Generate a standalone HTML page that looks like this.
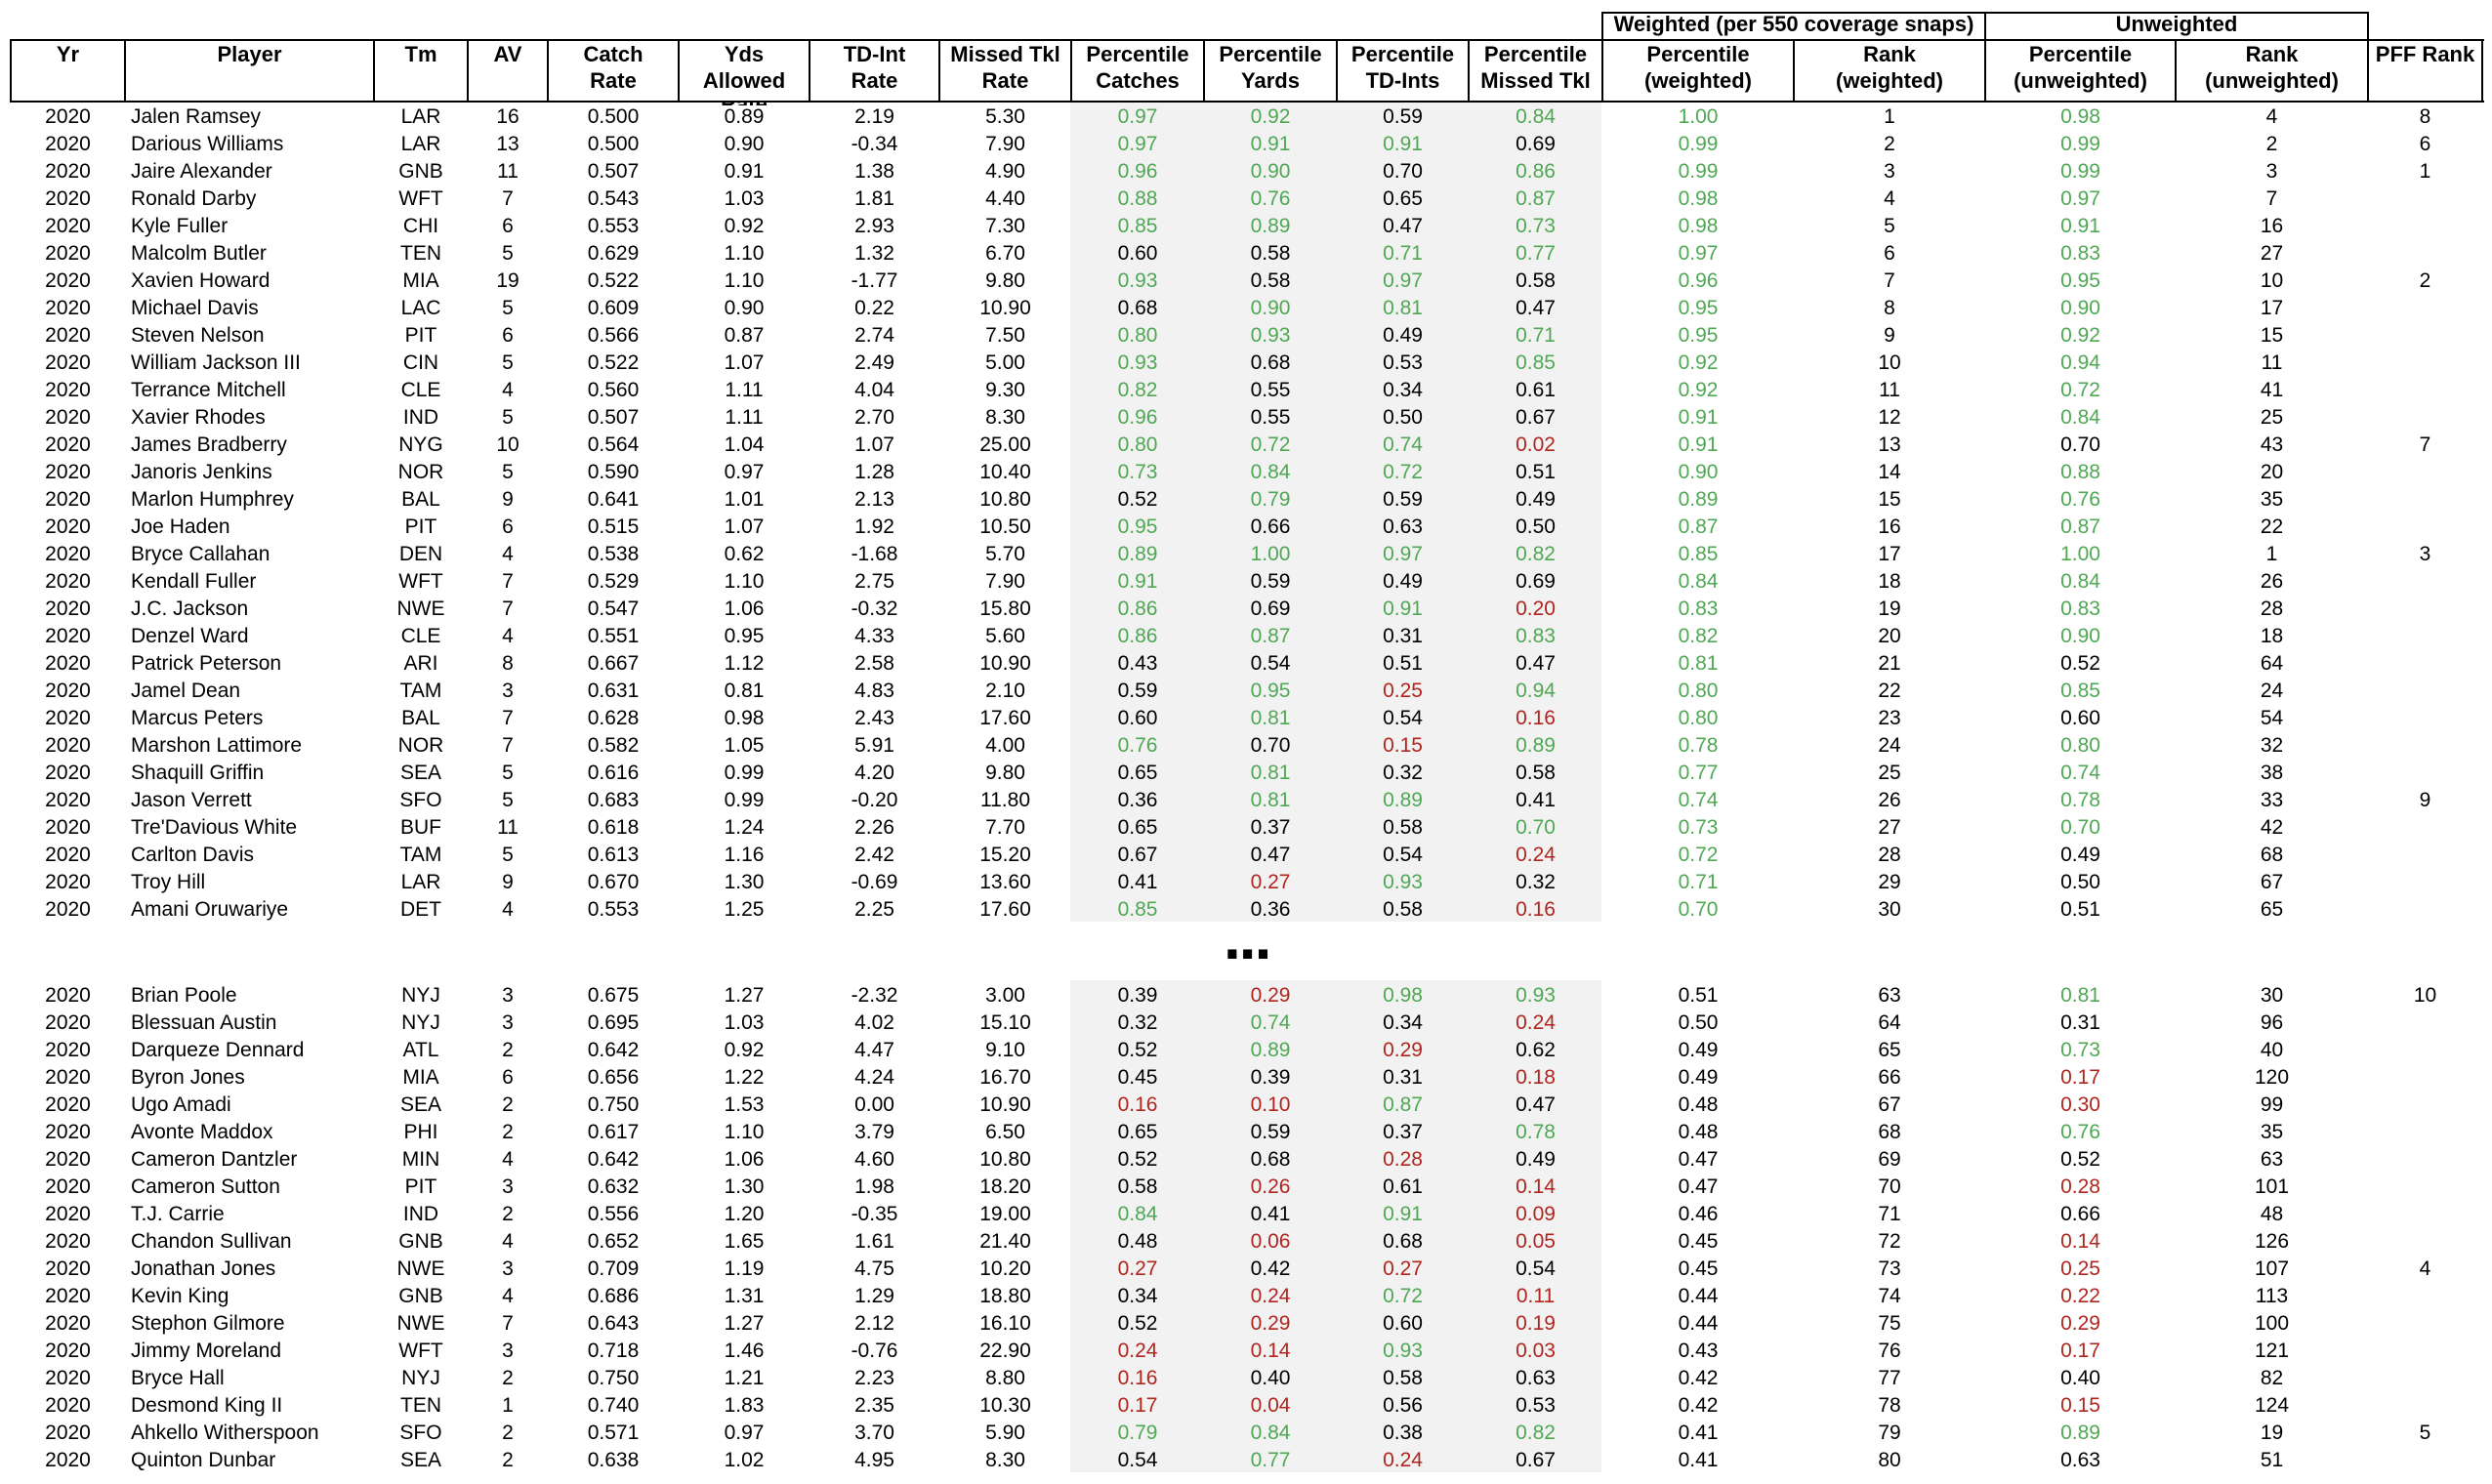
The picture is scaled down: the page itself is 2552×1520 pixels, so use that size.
<!DOCTYPE html>
<html><head><meta charset="utf-8">
<style>
html,body{margin:0;padding:0;background:#fff;}
body{width:2552px;height:1520px;position:relative;overflow:hidden;font-family:"Liberation Sans",Arial,Helvetica,sans-serif;color:#000;}
.ln{position:absolute;background:#000;}
.gray{position:absolute;background:#f2f2f2;left:1096px;width:544px;}
.hc{position:absolute;top:42px;text-align:center;font-weight:bold;font-size:22px;line-height:27px;white-space:nowrap;}
.gh{position:absolute;top:11px;height:28px;line-height:28px;text-align:center;font-weight:bold;font-size:22px;white-space:nowrap;}
table{position:absolute;left:11px;width:2531px;table-layout:fixed;border-collapse:collapse;border-spacing:0;}
td{padding:0;height:28px;line-height:28px;font-size:21px;text-align:center;white-space:nowrap;overflow:visible;}
td.p{text-align:left;padding-left:6px;}
.g{color:#4fa853;}
.r{color:#b0251e;}
</style></head><body>

<div class="gray" style="top:105px;height:839px"></div>
<div class="gray" style="top:1004px;height:504px"></div>

<!-- horizontal lines -->
<div class="ln" style="left:10px;width:2534px;top:40px;height:2px"></div>
<div class="ln" style="left:10px;width:2534px;top:103px;height:2px"></div>
<div class="ln" style="left:1640px;width:786px;top:12px;height:2px"></div>
<!-- vertical lines -->
<div class="ln" style="left:10px;width:2px;top:40px;height:65px"></div>
<div class="ln" style="left:127px;width:2px;top:40px;height:65px"></div>
<div class="ln" style="left:382px;width:2px;top:40px;height:65px"></div>
<div class="ln" style="left:478px;width:2px;top:40px;height:65px"></div>
<div class="ln" style="left:560px;width:2px;top:40px;height:65px"></div>
<div class="ln" style="left:694px;width:2px;top:40px;height:65px"></div>
<div class="ln" style="left:828px;width:2px;top:40px;height:65px"></div>
<div class="ln" style="left:961px;width:2px;top:40px;height:65px"></div>
<div class="ln" style="left:1096px;width:2px;top:40px;height:65px"></div>
<div class="ln" style="left:1232px;width:2px;top:40px;height:65px"></div>
<div class="ln" style="left:1368px;width:2px;top:40px;height:65px"></div>
<div class="ln" style="left:1503px;width:2px;top:40px;height:65px"></div>
<div class="ln" style="left:1640px;width:2px;top:12px;height:93px"></div>
<div class="ln" style="left:1836px;width:2px;top:40px;height:65px"></div>
<div class="ln" style="left:2032px;width:2px;top:12px;height:93px"></div>
<div class="ln" style="left:2227px;width:2px;top:40px;height:65px"></div>
<div class="ln" style="left:2424px;width:2px;top:12px;height:93px"></div>
<div class="ln" style="left:2541px;width:2px;top:40px;height:65px"></div>

<!-- group headers -->
<div class="gh" style="left:1641px;width:392px">Weighted (per 550 coverage snaps)</div>
<div class="gh" style="left:2033px;width:392px">Unweighted</div>

<!-- column headers -->
<div class="hc" style="left:11px;width:117px">Yr</div>
<div class="hc" style="left:128px;width:255px">Player</div>
<div class="hc" style="left:383px;width:96px">Tm</div>
<div class="hc" style="left:479px;width:82px">AV</div>
<div class="hc" style="left:561px;width:134px">Catch<br>Rate</div>
<div class="hc" style="left:695px;width:134px">Yds<br>Allowed</div>
<div style="position:absolute;left:695px;width:134px;top:105px;height:3px;overflow:hidden;">
  <div style="position:absolute;left:0;width:134px;top:-12px;text-align:center;font-weight:bold;font-size:22px;line-height:27px;">Rate</div>
</div>
<div class="hc" style="left:829px;width:133px">TD-Int<br>Rate</div>
<div class="hc" style="left:962px;width:135px">Missed Tkl<br>Rate</div>
<div class="hc" style="left:1097px;width:136px">Percentile<br>Catches</div>
<div class="hc" style="left:1233px;width:136px">Percentile<br>Yards</div>
<div class="hc" style="left:1369px;width:135px">Percentile<br>TD-Ints</div>
<div class="hc" style="left:1504px;width:137px">Percentile<br>Missed Tkl</div>
<div class="hc" style="left:1641px;width:196px">Percentile<br>(weighted)</div>
<div class="hc" style="left:1837px;width:196px">Rank<br>(weighted)</div>
<div class="hc" style="left:2033px;width:195px">Percentile<br>(unweighted)</div>
<div class="hc" style="left:2228px;width:197px">Rank<br>(unweighted)</div>
<div class="hc" style="left:2425px;width:117px">PFF Rank</div>

<table style="top:106px">
<colgroup>
<col style="width:117px"><col style="width:255px"><col style="width:96px"><col style="width:82px"><col style="width:134px"><col style="width:134px"><col style="width:133px"><col style="width:135px"><col style="width:136px"><col style="width:136px"><col style="width:135px"><col style="width:137px"><col style="width:196px"><col style="width:196px"><col style="width:195px"><col style="width:197px"><col style="width:117px">
</colgroup>
<tr><td>2020</td><td class="p">Jalen Ramsey</td><td>LAR</td><td>16</td><td>0.500</td><td>0.89</td><td>2.19</td><td>5.30</td><td class="g">0.97</td><td class="g">0.92</td><td>0.59</td><td class="g">0.84</td><td class="g">1.00</td><td>1</td><td class="g">0.98</td><td>4</td><td>8</td></tr>
<tr><td>2020</td><td class="p">Darious Williams</td><td>LAR</td><td>13</td><td>0.500</td><td>0.90</td><td>-0.34</td><td>7.90</td><td class="g">0.97</td><td class="g">0.91</td><td class="g">0.91</td><td>0.69</td><td class="g">0.99</td><td>2</td><td class="g">0.99</td><td>2</td><td>6</td></tr>
<tr><td>2020</td><td class="p">Jaire Alexander</td><td>GNB</td><td>11</td><td>0.507</td><td>0.91</td><td>1.38</td><td>4.90</td><td class="g">0.96</td><td class="g">0.90</td><td>0.70</td><td class="g">0.86</td><td class="g">0.99</td><td>3</td><td class="g">0.99</td><td>3</td><td>1</td></tr>
<tr><td>2020</td><td class="p">Ronald Darby</td><td>WFT</td><td>7</td><td>0.543</td><td>1.03</td><td>1.81</td><td>4.40</td><td class="g">0.88</td><td class="g">0.76</td><td>0.65</td><td class="g">0.87</td><td class="g">0.98</td><td>4</td><td class="g">0.97</td><td>7</td><td></td></tr>
<tr><td>2020</td><td class="p">Kyle Fuller</td><td>CHI</td><td>6</td><td>0.553</td><td>0.92</td><td>2.93</td><td>7.30</td><td class="g">0.85</td><td class="g">0.89</td><td>0.47</td><td class="g">0.73</td><td class="g">0.98</td><td>5</td><td class="g">0.91</td><td>16</td><td></td></tr>
<tr><td>2020</td><td class="p">Malcolm Butler</td><td>TEN</td><td>5</td><td>0.629</td><td>1.10</td><td>1.32</td><td>6.70</td><td>0.60</td><td>0.58</td><td class="g">0.71</td><td class="g">0.77</td><td class="g">0.97</td><td>6</td><td class="g">0.83</td><td>27</td><td></td></tr>
<tr><td>2020</td><td class="p">Xavien Howard</td><td>MIA</td><td>19</td><td>0.522</td><td>1.10</td><td>-1.77</td><td>9.80</td><td class="g">0.93</td><td>0.58</td><td class="g">0.97</td><td>0.58</td><td class="g">0.96</td><td>7</td><td class="g">0.95</td><td>10</td><td>2</td></tr>
<tr><td>2020</td><td class="p">Michael Davis</td><td>LAC</td><td>5</td><td>0.609</td><td>0.90</td><td>0.22</td><td>10.90</td><td>0.68</td><td class="g">0.90</td><td class="g">0.81</td><td>0.47</td><td class="g">0.95</td><td>8</td><td class="g">0.90</td><td>17</td><td></td></tr>
<tr><td>2020</td><td class="p">Steven Nelson</td><td>PIT</td><td>6</td><td>0.566</td><td>0.87</td><td>2.74</td><td>7.50</td><td class="g">0.80</td><td class="g">0.93</td><td>0.49</td><td class="g">0.71</td><td class="g">0.95</td><td>9</td><td class="g">0.92</td><td>15</td><td></td></tr>
<tr><td>2020</td><td class="p">William Jackson III</td><td>CIN</td><td>5</td><td>0.522</td><td>1.07</td><td>2.49</td><td>5.00</td><td class="g">0.93</td><td>0.68</td><td>0.53</td><td class="g">0.85</td><td class="g">0.92</td><td>10</td><td class="g">0.94</td><td>11</td><td></td></tr>
<tr><td>2020</td><td class="p">Terrance Mitchell</td><td>CLE</td><td>4</td><td>0.560</td><td>1.11</td><td>4.04</td><td>9.30</td><td class="g">0.82</td><td>0.55</td><td>0.34</td><td>0.61</td><td class="g">0.92</td><td>11</td><td class="g">0.72</td><td>41</td><td></td></tr>
<tr><td>2020</td><td class="p">Xavier Rhodes</td><td>IND</td><td>5</td><td>0.507</td><td>1.11</td><td>2.70</td><td>8.30</td><td class="g">0.96</td><td>0.55</td><td>0.50</td><td>0.67</td><td class="g">0.91</td><td>12</td><td class="g">0.84</td><td>25</td><td></td></tr>
<tr><td>2020</td><td class="p">James Bradberry</td><td>NYG</td><td>10</td><td>0.564</td><td>1.04</td><td>1.07</td><td>25.00</td><td class="g">0.80</td><td class="g">0.72</td><td class="g">0.74</td><td class="r">0.02</td><td class="g">0.91</td><td>13</td><td>0.70</td><td>43</td><td>7</td></tr>
<tr><td>2020</td><td class="p">Janoris Jenkins</td><td>NOR</td><td>5</td><td>0.590</td><td>0.97</td><td>1.28</td><td>10.40</td><td class="g">0.73</td><td class="g">0.84</td><td class="g">0.72</td><td>0.51</td><td class="g">0.90</td><td>14</td><td class="g">0.88</td><td>20</td><td></td></tr>
<tr><td>2020</td><td class="p">Marlon Humphrey</td><td>BAL</td><td>9</td><td>0.641</td><td>1.01</td><td>2.13</td><td>10.80</td><td>0.52</td><td class="g">0.79</td><td>0.59</td><td>0.49</td><td class="g">0.89</td><td>15</td><td class="g">0.76</td><td>35</td><td></td></tr>
<tr><td>2020</td><td class="p">Joe Haden</td><td>PIT</td><td>6</td><td>0.515</td><td>1.07</td><td>1.92</td><td>10.50</td><td class="g">0.95</td><td>0.66</td><td>0.63</td><td>0.50</td><td class="g">0.87</td><td>16</td><td class="g">0.87</td><td>22</td><td></td></tr>
<tr><td>2020</td><td class="p">Bryce Callahan</td><td>DEN</td><td>4</td><td>0.538</td><td>0.62</td><td>-1.68</td><td>5.70</td><td class="g">0.89</td><td class="g">1.00</td><td class="g">0.97</td><td class="g">0.82</td><td class="g">0.85</td><td>17</td><td class="g">1.00</td><td>1</td><td>3</td></tr>
<tr><td>2020</td><td class="p">Kendall Fuller</td><td>WFT</td><td>7</td><td>0.529</td><td>1.10</td><td>2.75</td><td>7.90</td><td class="g">0.91</td><td>0.59</td><td>0.49</td><td>0.69</td><td class="g">0.84</td><td>18</td><td class="g">0.84</td><td>26</td><td></td></tr>
<tr><td>2020</td><td class="p">J.C. Jackson</td><td>NWE</td><td>7</td><td>0.547</td><td>1.06</td><td>-0.32</td><td>15.80</td><td class="g">0.86</td><td>0.69</td><td class="g">0.91</td><td class="r">0.20</td><td class="g">0.83</td><td>19</td><td class="g">0.83</td><td>28</td><td></td></tr>
<tr><td>2020</td><td class="p">Denzel Ward</td><td>CLE</td><td>4</td><td>0.551</td><td>0.95</td><td>4.33</td><td>5.60</td><td class="g">0.86</td><td class="g">0.87</td><td>0.31</td><td class="g">0.83</td><td class="g">0.82</td><td>20</td><td class="g">0.90</td><td>18</td><td></td></tr>
<tr><td>2020</td><td class="p">Patrick Peterson</td><td>ARI</td><td>8</td><td>0.667</td><td>1.12</td><td>2.58</td><td>10.90</td><td>0.43</td><td>0.54</td><td>0.51</td><td>0.47</td><td class="g">0.81</td><td>21</td><td>0.52</td><td>64</td><td></td></tr>
<tr><td>2020</td><td class="p">Jamel Dean</td><td>TAM</td><td>3</td><td>0.631</td><td>0.81</td><td>4.83</td><td>2.10</td><td>0.59</td><td class="g">0.95</td><td class="r">0.25</td><td class="g">0.94</td><td class="g">0.80</td><td>22</td><td class="g">0.85</td><td>24</td><td></td></tr>
<tr><td>2020</td><td class="p">Marcus Peters</td><td>BAL</td><td>7</td><td>0.628</td><td>0.98</td><td>2.43</td><td>17.60</td><td>0.60</td><td class="g">0.81</td><td>0.54</td><td class="r">0.16</td><td class="g">0.80</td><td>23</td><td>0.60</td><td>54</td><td></td></tr>
<tr><td>2020</td><td class="p">Marshon Lattimore</td><td>NOR</td><td>7</td><td>0.582</td><td>1.05</td><td>5.91</td><td>4.00</td><td class="g">0.76</td><td>0.70</td><td class="r">0.15</td><td class="g">0.89</td><td class="g">0.78</td><td>24</td><td class="g">0.80</td><td>32</td><td></td></tr>
<tr><td>2020</td><td class="p">Shaquill Griffin</td><td>SEA</td><td>5</td><td>0.616</td><td>0.99</td><td>4.20</td><td>9.80</td><td>0.65</td><td class="g">0.81</td><td>0.32</td><td>0.58</td><td class="g">0.77</td><td>25</td><td class="g">0.74</td><td>38</td><td></td></tr>
<tr><td>2020</td><td class="p">Jason Verrett</td><td>SFO</td><td>5</td><td>0.683</td><td>0.99</td><td>-0.20</td><td>11.80</td><td>0.36</td><td class="g">0.81</td><td class="g">0.89</td><td>0.41</td><td class="g">0.74</td><td>26</td><td class="g">0.78</td><td>33</td><td>9</td></tr>
<tr><td>2020</td><td class="p">Tre'Davious White</td><td>BUF</td><td>11</td><td>0.618</td><td>1.24</td><td>2.26</td><td>7.70</td><td>0.65</td><td>0.37</td><td>0.58</td><td class="g">0.70</td><td class="g">0.73</td><td>27</td><td class="g">0.70</td><td>42</td><td></td></tr>
<tr><td>2020</td><td class="p">Carlton Davis</td><td>TAM</td><td>5</td><td>0.613</td><td>1.16</td><td>2.42</td><td>15.20</td><td>0.67</td><td>0.47</td><td>0.54</td><td class="r">0.24</td><td class="g">0.72</td><td>28</td><td>0.49</td><td>68</td><td></td></tr>
<tr><td>2020</td><td class="p">Troy Hill</td><td>LAR</td><td>9</td><td>0.670</td><td>1.30</td><td>-0.69</td><td>13.60</td><td>0.41</td><td class="r">0.27</td><td class="g">0.93</td><td>0.32</td><td class="g">0.71</td><td>29</td><td>0.50</td><td>67</td><td></td></tr>
<tr><td>2020</td><td class="p">Amani Oruwariye</td><td>DET</td><td>4</td><td>0.553</td><td>1.25</td><td>2.25</td><td>17.60</td><td class="g">0.85</td><td>0.36</td><td>0.58</td><td class="r">0.16</td><td class="g">0.70</td><td>30</td><td>0.51</td><td>65</td><td></td></tr>
</table>

<div style="position:absolute;left:1253px;top:928px;font-size:64px;line-height:64px;font-weight:bold;letter-spacing:-2px;white-space:nowrap;">...</div>

<table style="top:1006px">
<colgroup>
<col style="width:117px"><col style="width:255px"><col style="width:96px"><col style="width:82px"><col style="width:134px"><col style="width:134px"><col style="width:133px"><col style="width:135px"><col style="width:136px"><col style="width:136px"><col style="width:135px"><col style="width:137px"><col style="width:196px"><col style="width:196px"><col style="width:195px"><col style="width:197px"><col style="width:117px">
</colgroup>
<tr><td>2020</td><td class="p">Brian Poole</td><td>NYJ</td><td>3</td><td>0.675</td><td>1.27</td><td>-2.32</td><td>3.00</td><td>0.39</td><td class="r">0.29</td><td class="g">0.98</td><td class="g">0.93</td><td>0.51</td><td>63</td><td class="g">0.81</td><td>30</td><td>10</td></tr>
<tr><td>2020</td><td class="p">Blessuan Austin</td><td>NYJ</td><td>3</td><td>0.695</td><td>1.03</td><td>4.02</td><td>15.10</td><td>0.32</td><td class="g">0.74</td><td>0.34</td><td class="r">0.24</td><td>0.50</td><td>64</td><td>0.31</td><td>96</td><td></td></tr>
<tr><td>2020</td><td class="p">Darqueze Dennard</td><td>ATL</td><td>2</td><td>0.642</td><td>0.92</td><td>4.47</td><td>9.10</td><td>0.52</td><td class="g">0.89</td><td class="r">0.29</td><td>0.62</td><td>0.49</td><td>65</td><td class="g">0.73</td><td>40</td><td></td></tr>
<tr><td>2020</td><td class="p">Byron Jones</td><td>MIA</td><td>6</td><td>0.656</td><td>1.22</td><td>4.24</td><td>16.70</td><td>0.45</td><td>0.39</td><td>0.31</td><td class="r">0.18</td><td>0.49</td><td>66</td><td class="r">0.17</td><td>120</td><td></td></tr>
<tr><td>2020</td><td class="p">Ugo Amadi</td><td>SEA</td><td>2</td><td>0.750</td><td>1.53</td><td>0.00</td><td>10.90</td><td class="r">0.16</td><td class="r">0.10</td><td class="g">0.87</td><td>0.47</td><td>0.48</td><td>67</td><td class="r">0.30</td><td>99</td><td></td></tr>
<tr><td>2020</td><td class="p">Avonte Maddox</td><td>PHI</td><td>2</td><td>0.617</td><td>1.10</td><td>3.79</td><td>6.50</td><td>0.65</td><td>0.59</td><td>0.37</td><td class="g">0.78</td><td>0.48</td><td>68</td><td class="g">0.76</td><td>35</td><td></td></tr>
<tr><td>2020</td><td class="p">Cameron Dantzler</td><td>MIN</td><td>4</td><td>0.642</td><td>1.06</td><td>4.60</td><td>10.80</td><td>0.52</td><td>0.68</td><td class="r">0.28</td><td>0.49</td><td>0.47</td><td>69</td><td>0.52</td><td>63</td><td></td></tr>
<tr><td>2020</td><td class="p">Cameron Sutton</td><td>PIT</td><td>3</td><td>0.632</td><td>1.30</td><td>1.98</td><td>18.20</td><td>0.58</td><td class="r">0.26</td><td>0.61</td><td class="r">0.14</td><td>0.47</td><td>70</td><td class="r">0.28</td><td>101</td><td></td></tr>
<tr><td>2020</td><td class="p">T.J. Carrie</td><td>IND</td><td>2</td><td>0.556</td><td>1.20</td><td>-0.35</td><td>19.00</td><td class="g">0.84</td><td>0.41</td><td class="g">0.91</td><td class="r">0.09</td><td>0.46</td><td>71</td><td>0.66</td><td>48</td><td></td></tr>
<tr><td>2020</td><td class="p">Chandon Sullivan</td><td>GNB</td><td>4</td><td>0.652</td><td>1.65</td><td>1.61</td><td>21.40</td><td>0.48</td><td class="r">0.06</td><td>0.68</td><td class="r">0.05</td><td>0.45</td><td>72</td><td class="r">0.14</td><td>126</td><td></td></tr>
<tr><td>2020</td><td class="p">Jonathan Jones</td><td>NWE</td><td>3</td><td>0.709</td><td>1.19</td><td>4.75</td><td>10.20</td><td class="r">0.27</td><td>0.42</td><td class="r">0.27</td><td>0.54</td><td>0.45</td><td>73</td><td class="r">0.25</td><td>107</td><td>4</td></tr>
<tr><td>2020</td><td class="p">Kevin King</td><td>GNB</td><td>4</td><td>0.686</td><td>1.31</td><td>1.29</td><td>18.80</td><td>0.34</td><td class="r">0.24</td><td class="g">0.72</td><td class="r">0.11</td><td>0.44</td><td>74</td><td class="r">0.22</td><td>113</td><td></td></tr>
<tr><td>2020</td><td class="p">Stephon Gilmore</td><td>NWE</td><td>7</td><td>0.643</td><td>1.27</td><td>2.12</td><td>16.10</td><td>0.52</td><td class="r">0.29</td><td>0.60</td><td class="r">0.19</td><td>0.44</td><td>75</td><td class="r">0.29</td><td>100</td><td></td></tr>
<tr><td>2020</td><td class="p">Jimmy Moreland</td><td>WFT</td><td>3</td><td>0.718</td><td>1.46</td><td>-0.76</td><td>22.90</td><td class="r">0.24</td><td class="r">0.14</td><td class="g">0.93</td><td class="r">0.03</td><td>0.43</td><td>76</td><td class="r">0.17</td><td>121</td><td></td></tr>
<tr><td>2020</td><td class="p">Bryce Hall</td><td>NYJ</td><td>2</td><td>0.750</td><td>1.21</td><td>2.23</td><td>8.80</td><td class="r">0.16</td><td>0.40</td><td>0.58</td><td>0.63</td><td>0.42</td><td>77</td><td>0.40</td><td>82</td><td></td></tr>
<tr><td>2020</td><td class="p">Desmond King II</td><td>TEN</td><td>1</td><td>0.740</td><td>1.83</td><td>2.35</td><td>10.30</td><td class="r">0.17</td><td class="r">0.04</td><td>0.56</td><td>0.53</td><td>0.42</td><td>78</td><td class="r">0.15</td><td>124</td><td></td></tr>
<tr><td>2020</td><td class="p">Ahkello Witherspoon</td><td>SFO</td><td>2</td><td>0.571</td><td>0.97</td><td>3.70</td><td>5.90</td><td class="g">0.79</td><td class="g">0.84</td><td>0.38</td><td class="g">0.82</td><td>0.41</td><td>79</td><td class="g">0.89</td><td>19</td><td>5</td></tr>
<tr><td>2020</td><td class="p">Quinton Dunbar</td><td>SEA</td><td>2</td><td>0.638</td><td>1.02</td><td>4.95</td><td>8.30</td><td>0.54</td><td class="g">0.77</td><td class="r">0.24</td><td>0.67</td><td>0.41</td><td>80</td><td>0.63</td><td>51</td><td></td></tr>
</table>

</body></html>
